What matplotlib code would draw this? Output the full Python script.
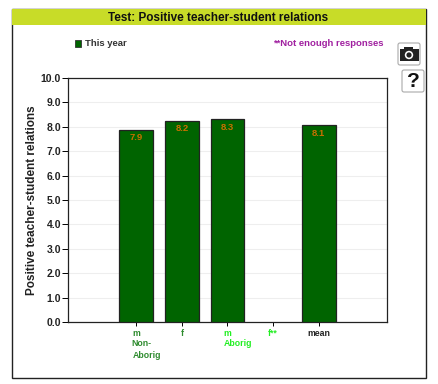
import matplotlib
matplotlib.use("Agg")
import matplotlib.pyplot as plt
from matplotlib.patches import Rectangle, FancyBboxPatch, Circle

plt.rcParams['font.family'] = ['Liberation Sans', 'DejaVu Sans']
plt.rcParams['font.weight'] = 'bold'

# data
positions = [0, 1, 2, 4]
values = [7.87, 8.24, 8.3, 8.07]
value_labels = ['7.9', '8.2', '8.3', '8.1']
tick_pos = [0, 1, 2, 3, 4]
tick_labels = ['m', 'f', 'm', 'f**', 'mean']
tick_colors = ['#2e8b2e', '#2e8b2e', '#22ee22', '#22ee22', '#222222']
y_ticks = [0, 1, 2, 3, 4, 5, 6, 7, 8, 9, 10]

W, H = 438, 384
fig = plt.figure(figsize=(W / 100, H / 100), dpi=100)

# background layer in pixel coordinates, for the frame and the icons
bg = fig.add_axes([0, 0, 1, 1], zorder=0)
bg.set_xlim(0, W)
bg.set_ylim(H, 0)
bg.axis('off')
bg.add_patch(Rectangle((11.5, 8.5), 414.5, 369.5, fc='white', ec='#222222', lw=1.0))
bg.add_patch(Rectangle((12, 9), 413.5, 16, fc='#c8dc28', ec='none'))
bg.text(218, 18, 'Test: Positive teacher-student relations', ha='center', va='center',
        fontsize=8.45, color='#111111')

# legend and note
bg.add_patch(Rectangle((74.5, 39.5), 6.5, 7, fc='#006400', ec='#333333', lw=0.6))
bg.text(85, 44, 'This year', ha='left', va='center', fontsize=6.8, color='#333333')
bg.text(384, 44, '**Not enough responses', ha='right', va='center', fontsize=6.8, color='#a020a0')

# camera button
bg.add_patch(FancyBboxPatch((398, 43), 22, 22, boxstyle='round,pad=0,rounding_size=2',
                            fc='white', ec='#aaaaaa', lw=0.8))
bg.add_patch(Rectangle((400, 49), 19, 12, fc='#222222', ec='none'))
bg.add_patch(Rectangle((404, 47), 9, 3, fc='#222222', ec='none'))
bg.add_patch(Circle((409, 55), 4.2, fc='white', ec='none'))
bg.add_patch(Circle((409, 55), 2.6, fc='#222222', ec='none'))

# help button
bg.add_patch(FancyBboxPatch((402, 70), 22, 22, boxstyle='round,pad=0,rounding_size=2',
                            fc='white', ec='#aaaaaa', lw=0.8))
bg.text(413, 81.5, '?', ha='center', va='center', fontsize=15, color='#111111')

# chart
ax = fig.add_axes([68 / W, 1 - 322 / H, (387 - 68) / W, (322 - 78) / H], zorder=1)
ax.patch.set_alpha(0)
ax.bar(positions, values, width=0.74, color='#006400', edgecolor='#222222', linewidth=0.9, zorder=3)
ax.set_xlim(-1.5, 5.5)
ax.set_ylim(0, 10)
ax.set_yticks(y_ticks)
ax.set_yticklabels([f'{v:.1f}' for v in y_ticks], fontsize=7.5, color='#222222')
ax.set_ylabel('Positive teacher-student relations', fontsize=8.5, fontweight='bold', color='#222222')
ax.yaxis.set_label_coords(-0.095, 0.5)
ax.yaxis.grid(True, color='#eeeeee', lw=0.8, zorder=0)
ax.set_axisbelow(True)
ax.tick_params(axis='y', length=4, width=0.7, pad=1)
ax.tick_params(axis='x', length=3, width=0.7, pad=2)
for s in ax.spines.values():
    s.set_linewidth(0.9)
    s.set_color('#222222')

ax.set_xticks(tick_pos)
ax.set_xticklabels(tick_labels, fontsize=6.3)
for lab, c in zip(ax.get_xticklabels(), tick_colors):
    lab.set_color(c)

for x, v, t in zip(positions, values, value_labels):
    ax.annotate(t, xy=(x, v), xytext=(0, -8), textcoords='offset pixels', ha='center', va='center',
                fontsize=6.8, color='#c87000', zorder=4)

# second line of the group labels
ax.annotate('Non-', xy=(0, 0), xytext=(-5, -21), textcoords='offset pixels', ha='left', va='center',
            fontsize=6.3, color='#2e8b2e', annotation_clip=False)
ax.annotate('Aborig', xy=(0, 0), xytext=(-4, -34), textcoords='offset pixels', ha='left', va='center',
            fontsize=6.3, color='#2e8b2e', annotation_clip=False)
ax.annotate('Aborig', xy=(2, 0), xytext=(-4, -21), textcoords='offset pixels', ha='left', va='center',
            fontsize=6.3, color='#22ee22', annotation_clip=False)

fig.savefig('out.png', dpi=100)
